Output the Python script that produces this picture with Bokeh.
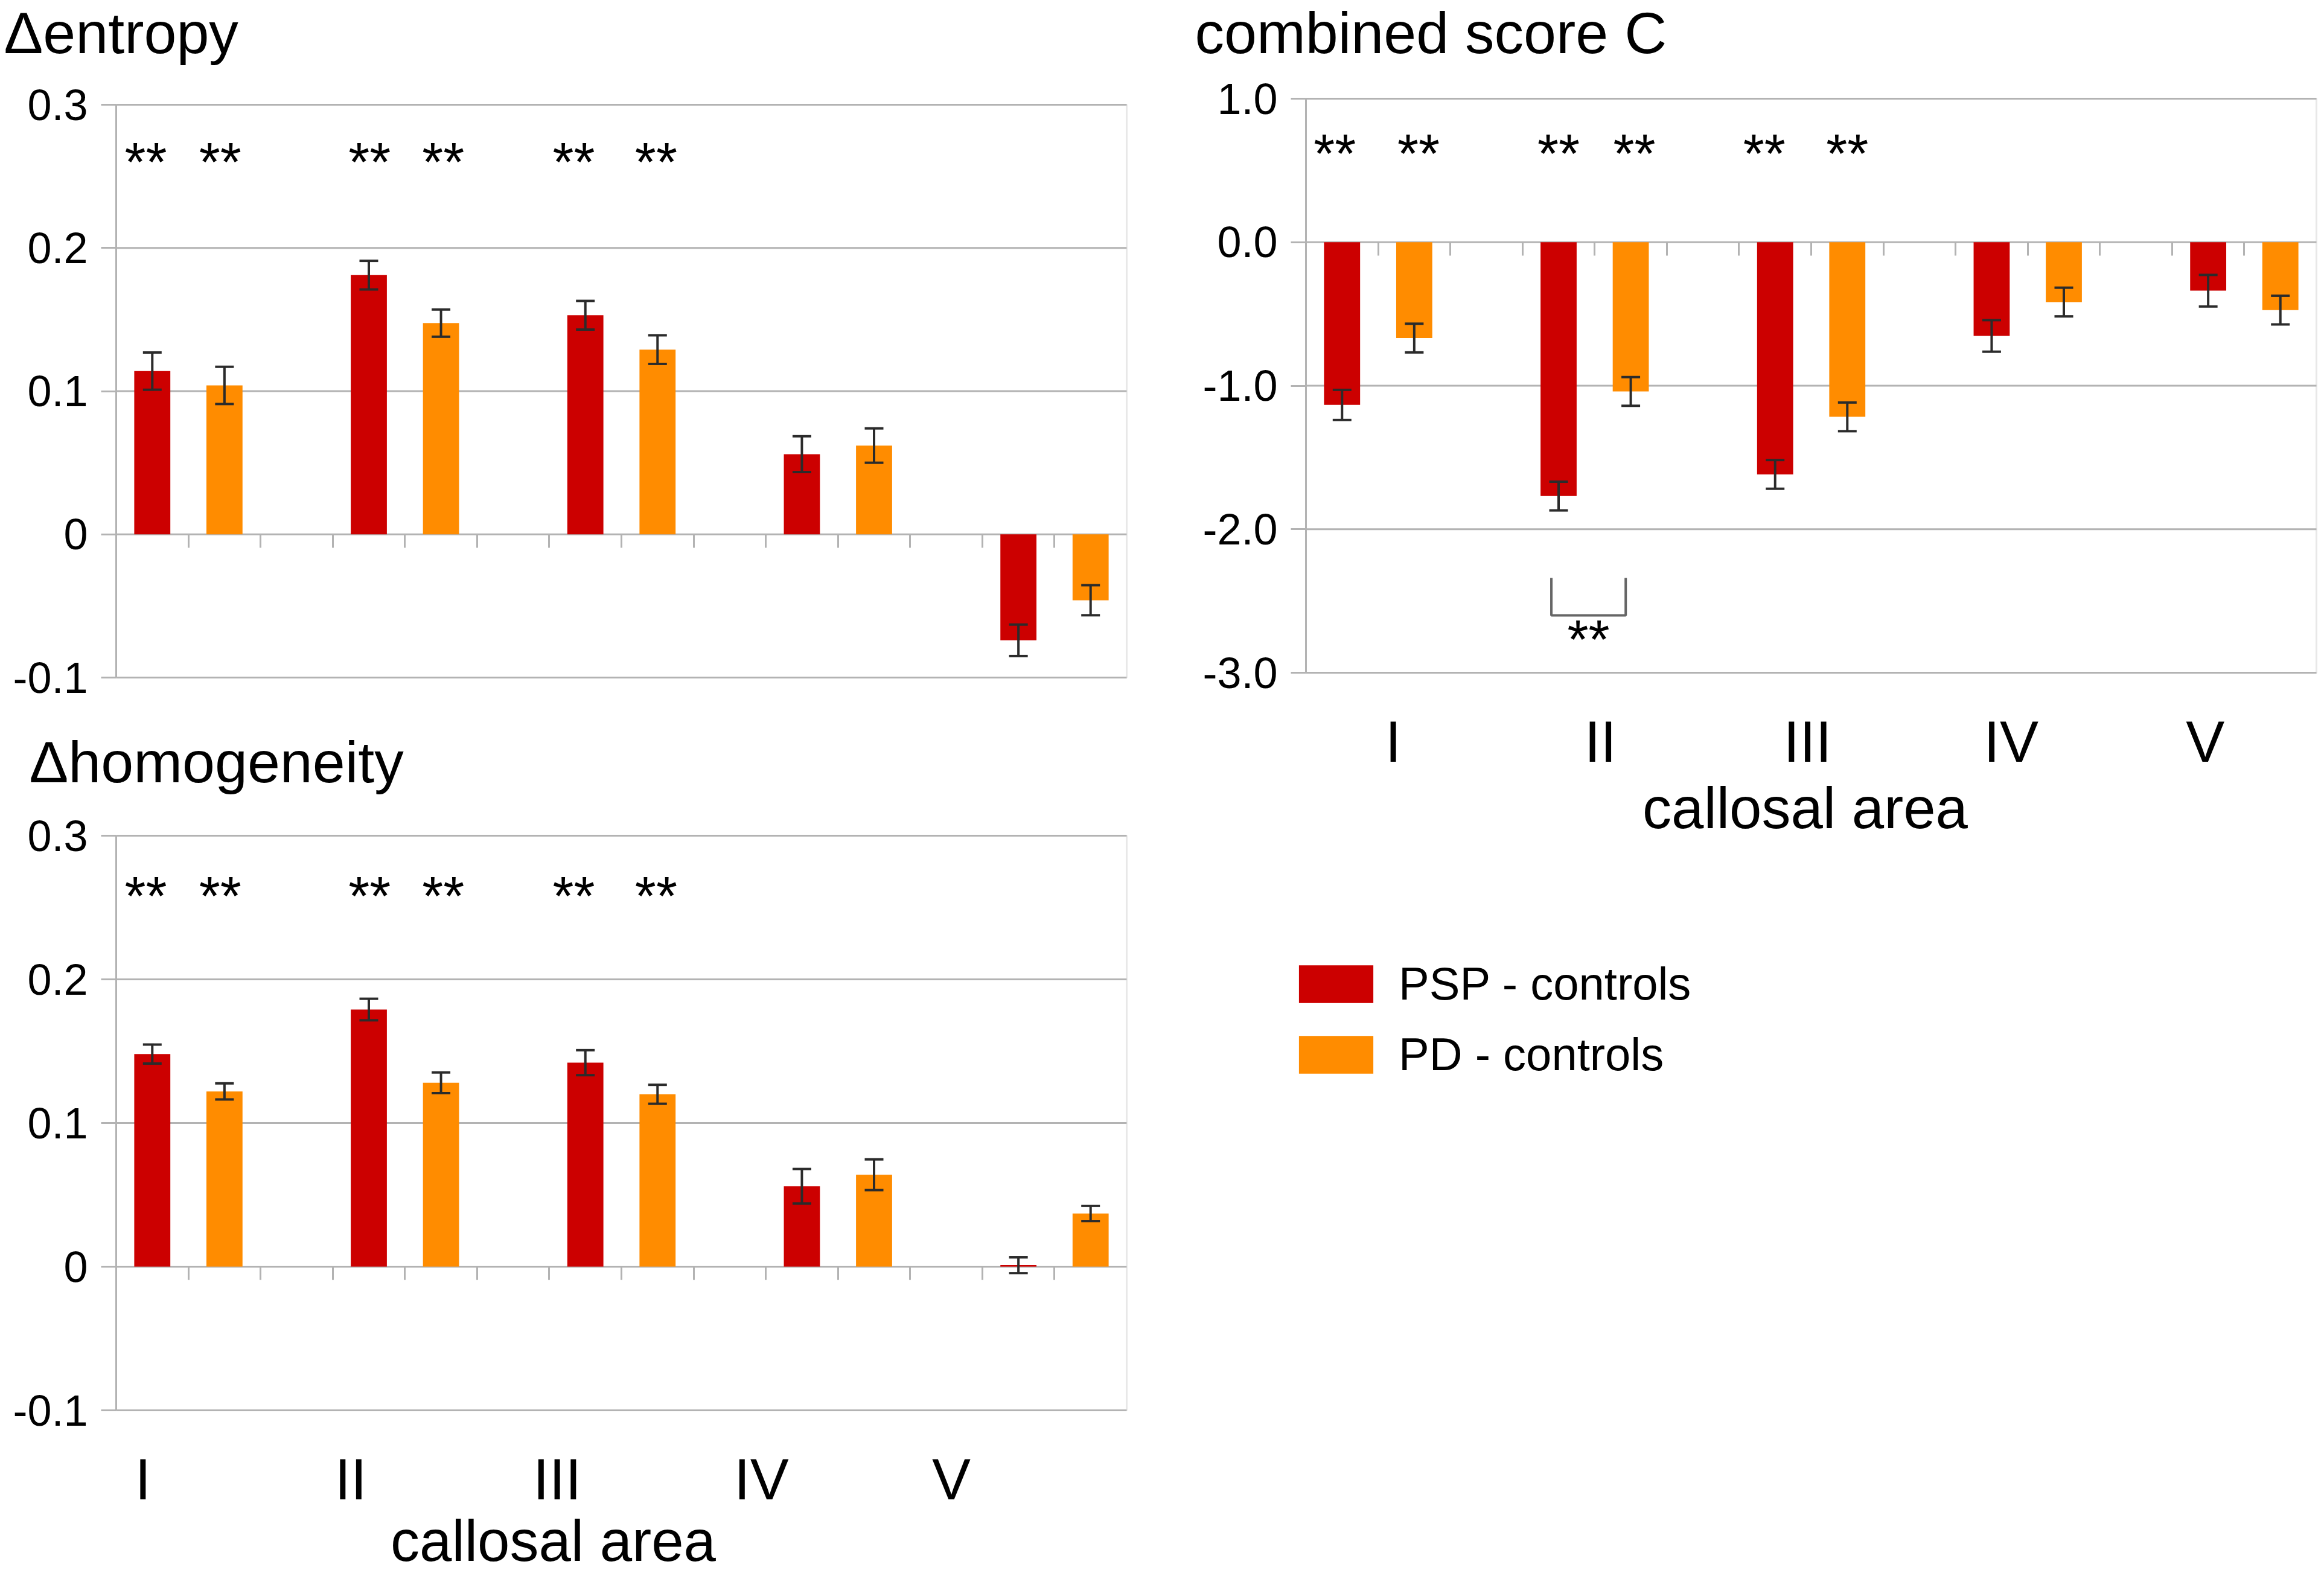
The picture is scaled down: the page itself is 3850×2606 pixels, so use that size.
from bokeh.plotting import figure
from bokeh.models import (Range1d, FixedTicker, Whisker, TeeHead, ColumnDataSource, Label,
                          Legend, LegendItem, PrintfTickFormatter, CustomJSTickFormatter,
                          LinearAxis, BoxAnnotation)
from bokeh.layouts import row, column
from bokeh.embed import file_html
from bokeh.resources import INLINE
from bokeh.core.properties import value

# ---------------- data ----------------
areas = ["I", "II", "III", "IV", "V"]

entropy_psp = [0.114, 0.181, 0.153, 0.056, -0.074]
entropy_psp_err = [0.013, 0.010, 0.010, 0.0125, 0.011]
entropy_pd = [0.104, 0.1475, 0.129, 0.062, -0.046]
entropy_pd_err = [0.013, 0.0095, 0.010, 0.012, 0.0105]

homog_psp = [0.148, 0.179, 0.142, 0.056, 0.001]
homog_psp_err = [0.0066, 0.0075, 0.0087, 0.012, 0.0055]
homog_pd = [0.122, 0.128, 0.120, 0.064, 0.037]
homog_pd_err = [0.0056, 0.0072, 0.0066, 0.0107, 0.0053]

comb_psp = [-1.134, -1.769, -1.618, -0.653, -0.338]
comb_psp_err = [0.105, 0.10, 0.10, 0.11, 0.11]
comb_pd = [-0.668, -1.04, -1.217, -0.417, -0.473]
comb_pd_err = [0.10, 0.10, 0.10, 0.10, 0.10]

series_labels = ["PSP - controls", "PD - controls"]
titles = ["Δentropy", "Δhomogeneity", "combined score C"]
xlabel = "callosal area"

# significance marks
star_text = "**"
stars_x_left = [0.41, 1.44, 3.51, 4.53, 6.34, 7.48]
stars_x_comb = [0.40, 1.56, 3.50, 4.55, 6.35, 7.50]
stars_y_entropy = 0.2596
stars_y_homog = 0.2576
stars_y_comb = 0.617
bracket_area = 1            # II : PSP vs PD
bracket_y = [-2.34, -2.60]
bracket_star_y = -2.77

# axis ticks / category label positions (in bar-slot units)
ticks_small = [0.3, 0.2, 0.1, 0.0, -0.1]
ticks_comb = [1.0, 0.0, -1.0, -2.0, -3.0]
area_label_pos_left = [0.37, 3.25, 6.11, 8.94, 11.57]
area_label_pos_comb = [1.21, 4.08, 6.95, 9.77, 12.46]

# ---------------- style ----------------
RED = "#cc0000"
ORANGE = "#ff8c00"
GRAY = "#b3b3b3"
ERR = "#2b2b2b"
FONT = "Liberation Sans"
N_SLOTS = 14
BAR_W = 0.5
ZERO_TICK_PX = 22
LABEL_SHIFT = 32   # Label text sits this many px below its anchor in the svg output

psp_x = [3 * i + 0.5 for i in range(len(areas))]
pd_x = [3 * i + 1.5 for i in range(len(areas))]


class Panel:
    """A figure whose frame is the whole canvas; the plotting box is placed by pixels."""

    def __init__(self, canvas, box, yr, yticks, yfmt):
        L, T, W, H = canvas
        bx0, bx1, by0, by1 = box
        self.bx0, self.by0 = bx0, by0
        self.sx = N_SLOTS / (bx1 - bx0)
        self.sy = (yr[1] - yr[0]) / (by1 - by0)
        self.yr = yr
        x_start = -(bx0 - L) * self.sx
        x_end = N_SLOTS + (L + W - bx1) * self.sx
        y_end = yr[1] + (by0 - T) * self.sy
        y_start = yr[0] - (T + H - by1) * self.sy
        p = figure(width=W, height=H, x_range=Range1d(x_start, x_end),
                   y_range=Range1d(y_start, y_end), output_backend="svg",
                   toolbar_location=None, x_axis_location=None, y_axis_location=None,
                   min_border=0, min_border_left=0, min_border_right=0,
                   min_border_top=0, min_border_bottom=0)
        p.outline_line_color = None
        p.background_fill_color = "white"
        p.border_fill_color = "white"
        p.xgrid.visible = False
        p.ygrid.visible = False
        self.p = p
        # horizontal grid lines
        p.segment(x0=[0] * len(yticks), x1=[N_SLOTS] * len(yticks), y0=yticks, y1=yticks,
                  line_color=GRAY, line_width=3)
        # plot box
        p.add_layout(BoxAnnotation(left=0, right=N_SLOTS, bottom=yr[0], top=yr[1],
                                   fill_alpha=0, line_color=GRAY, line_width=3,
                                   level="underlay"))
        # y axis at the box's left edge
        ya = LinearAxis(fixed_location=0, bounds=yr, ticker=FixedTicker(ticks=yticks),
                        formatter=PrintfTickFormatter(format=yfmt))
        ya.major_label_text_font = FONT
        ya.major_label_text_font_size = "72px"
        ya.major_label_text_color = "black"
        ya.major_tick_in = 0
        ya.major_tick_out = 25
        ya.major_tick_line_color = GRAY
        ya.major_tick_line_width = 3
        ya.minor_tick_line_color = None
        ya.axis_line_color = GRAY
        ya.axis_line_width = 3
        ya.major_label_standoff = 22
        p.add_layout(ya, "left")
        # category axis along the zero line (slot boundaries)
        za = LinearAxis(fixed_location=0, bounds=(0, N_SLOTS),
                        ticker=FixedTicker(ticks=list(range(1, N_SLOTS))),
                        formatter=CustomJSTickFormatter(code="return ''"))
        za.axis_line_color = None
        za.major_tick_in = 0
        za.major_tick_out = ZERO_TICK_PX
        za.major_tick_line_color = GRAY
        za.major_tick_line_width = 3
        za.minor_tick_line_color = None
        p.add_layout(za, "below")

    def x(self, page_x):
        return (page_x - self.bx0) * self.sx

    def y(self, page_y):
        return self.yr[1] - (page_y - self.by0) * self.sy

    def area_axis(self, label_pos, standoff):
        xa = LinearAxis(fixed_location=self.yr[0], ticker=FixedTicker(ticks=label_pos),
                        formatter=CustomJSTickFormatter(args=dict(labels=areas),
                                                        code="return labels[index]"))
        xa.major_label_text_font = FONT
        xa.major_label_text_font_size = "96px"
        xa.major_label_text_color = "black"
        xa.axis_line_color = None
        xa.major_tick_line_color = None
        xa.minor_tick_line_color = None
        xa.major_tick_out = 0
        xa.major_tick_in = 0
        xa.major_label_standoff = standoff
        self.p.add_layout(xa, "below")

    def bars(self, psp, psp_err, pd, pd_err):
        rs = []
        for xs, vals, errs, col in ((psp_x, psp, psp_err, RED), (pd_x, pd, pd_err, ORANGE)):
            src = ColumnDataSource(dict(x=xs, top=vals,
                                        upper=[v + e for v, e in zip(vals, errs)],
                                        lower=[v - e for v, e in zip(vals, errs)]))
            r = self.p.vbar(x="x", top="top", bottom=0, width=BAR_W, source=src,
                            fill_color=col, line_color=None)
            w = Whisker(source=src, base="x", upper="upper", lower="lower", level="overlay",
                        line_color=ERR, line_width=4,
                        upper_head=TeeHead(size=31, line_color=ERR, line_width=4),
                        lower_head=TeeHead(size=31, line_color=ERR, line_width=4))
            self.p.add_layout(w)
            rs.append(r)
        return rs

    def stars(self, xs, y):
        self.p.text(x=xs, y=[y] * len(xs), text=[star_text] * len(xs),
                    text_font=value(FONT), text_font_size=value("90px"),
                    text_align="center", text_baseline="alphabetic", text_color="black")

    def label(self, page_x, page_y, text, size, align="left"):
        self.p.add_layout(Label(x=self.x(page_x), y=self.y(page_y - LABEL_SHIFT), text=text,
                                text_font=FONT, text_font_size=size, text_align=align,
                                text_baseline="alphabetic", text_color="black"))


# ---------------- entropy ----------------
A = Panel((0, 0, 1908, 1200), (192, 1866, 173, 1122), (-0.1, 0.3), ticks_small, "%g")
A.bars(entropy_psp, entropy_psp_err, entropy_pd, entropy_pd_err)
A.stars(stars_x_left, stars_y_entropy)
A.label(6, 86, titles[0], "97px")

# ---------------- homogeneity ----------------
B = Panel((0, 1200, 1908, 1406), (192, 1866, 1384, 2336), (-0.1, 0.3), ticks_small, "%g")
B.bars(homog_psp, homog_psp_err, homog_pd, homog_pd_err)
B.stars(stars_x_left, stars_y_homog)
B.area_axis(area_label_pos_left, 60)
B.label(48, 1294, titles[1], "97px")
B.label(916, 2584, xlabel, "96px", "center")

# ---------------- combined score ----------------
C = Panel((1908, 0, 1942, 2606), (2163, 3837, 163, 1114), (-3.0, 1.0), ticks_comb, "%.1f")
r_psp, r_pd = C.bars(comb_psp, comb_psp_err, comb_pd, comb_pd_err)
C.stars(stars_x_comb, stars_y_comb)
C.area_axis(area_label_pos_comb, 60)
C.label(1979, 86, titles[2], "97px")
C.label(2990, 1370, xlabel, "96px", "center")

bx0 = psp_x[bracket_area] - 0.1
bx1 = pd_x[bracket_area] - 0.07
C.p.line(x=[bx0, bx0, bx1, bx1], y=[bracket_y[0], bracket_y[1], bracket_y[1], bracket_y[0]],
         line_color="#666666", line_width=4)
C.stars([(bx0 + bx1) / 2], bracket_star_y)

legend = Legend(items=[LegendItem(label=series_labels[0], renderers=[r_psp]),
                       LegendItem(label=series_labels[1], renderers=[r_pd])],
                location=(2136 - 1908, 2606 - 1790), orientation="vertical",
                glyph_width=154, glyph_height=78, label_height=78, label_width=10,
                label_standoff=27, spacing=30, padding=0, margin=0,
                border_line_color=None, background_fill_alpha=0,
                label_text_font=FONT, label_text_font_size="76px", label_text_color="black")
C.p.add_layout(legend)

layout = row(column(A.p, B.p), C.p)
open("out.html", "w").write(file_html(layout, INLINE))
